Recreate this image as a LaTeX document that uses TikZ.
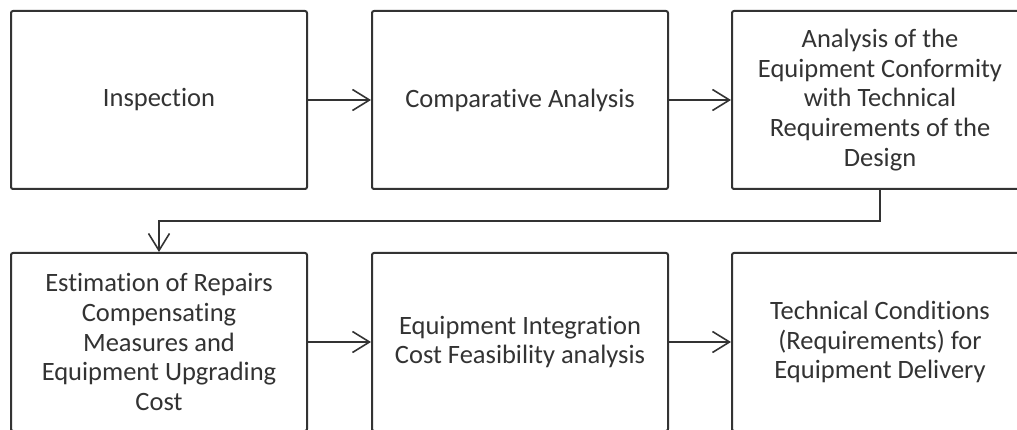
\documentclass[tikz,border=0pt]{standalone}
\usepackage{fontspec}
\setmainfont{Carlito}[Ligatures=NoCommon]
\usetikzlibrary{arrows.meta}
\definecolor{ink}{HTML}{333333}
\tikzset{
  box/.style={draw=ink, line width=2pt, rounded corners=2pt, fill=white,
    minimum width=296pt, minimum height=178pt, align=center, text=ink,
    font=\fontsize{26.5}{29.6}\selectfont, inner sep=2pt},
  flow/.style={draw=ink, line width=1.6pt,
    -{Straight Barb[length=17pt,width=21pt,line width=1.6pt]}}
}
\begin{document}
\begin{tikzpicture}[x=1pt,y=-1pt]
  \clip (0,0) rectangle (1017,430);
  % top row
  \node[box] (b1) at (159,100) {Inspection};
  \node[box] (b2) at (520,100) {Comparative Analysis};
  \node[box] (b3) at (880,100) {Analysis of the\\Equipment Conformity\\with Technical\\Requirements of the\\Design};
  % bottom row
  \node[box] (b4) at (159,342) {Estimation of Repairs\\Compensating\\Measures and\\Equipment Upgrading\\Cost};
  \node[box] (b5) at (520,342) {Equipment Integration\\Cost Feasibility analysis};
  \node[box] (b6) at (880,342) {Technical Conditions\\(Requirements) for\\Equipment Delivery};
  % connectors
  \draw[flow] (b1) -- (b2);
  \draw[flow] (b2) -- (b3);
  \draw[flow] (b3.south) -- ++(0,31) -| (b4.north);
  \draw[flow] (b4) -- (b5);
  \draw[flow] (b5) -- (b6);
\end{tikzpicture}
\end{document}
